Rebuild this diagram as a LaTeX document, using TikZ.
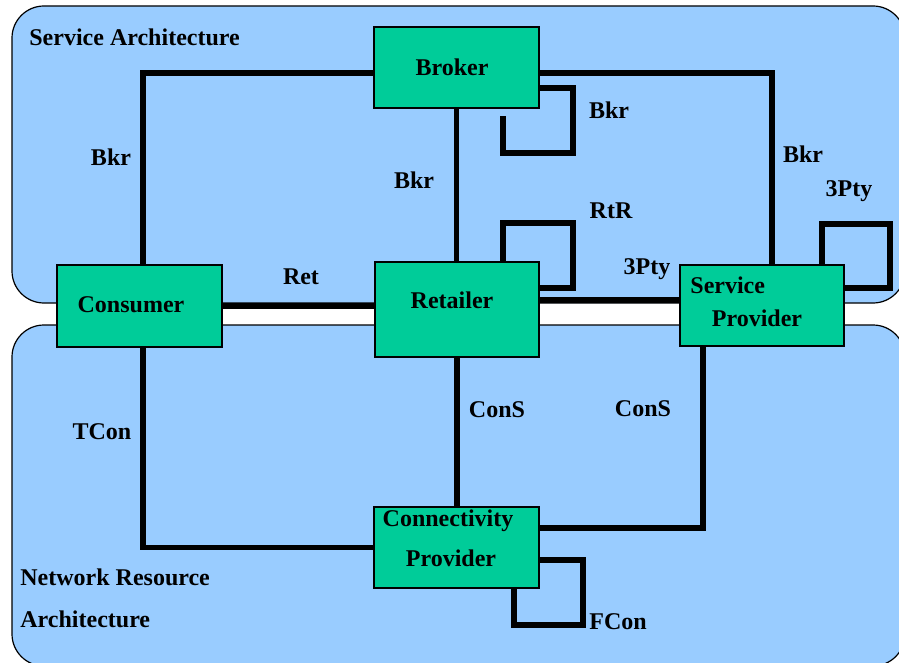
\documentclass[tikz,border=0pt]{standalone}
\usepackage{fontspec}
\setmainfont{Liberation Serif}
\definecolor{areablue}{HTML}{99CCFF}
\definecolor{boxgreen}{HTML}{00CC99}
\tikzset{
  area/.style={draw=black, line width=0.6pt, fill=areablue, rounded corners=16pt},
  comp/.style={draw=black, line width=0.8pt, fill=boxgreen, inner sep=0pt},
  link/.style={line width=2.6pt},
  lbl/.style={font=\fontsize{12pt}{14pt}\selectfont\bfseries, inner sep=0pt,
    text height=8pt, text depth=0pt}
}
\begin{document}
\begin{tikzpicture}[x=0.5pt,y=-0.5pt]
      \useasboundingbox[fill=white] (0,0) rectangle (899,663);
      % 两个区域
      \draw[area] (12,6) rectangle (905,303);
      \draw[area] (12,325) rectangle (905,666);
      \node[lbl,anchor=west] (sa) at (29,38) {Service Architecture};
      \node[lbl,anchor=west] (nra1) at (20,577) {Network Resource};
      \node[lbl,anchor=west] (nra2) at (20,619) {Architecture};
      % 角色方框
      \node[comp,minimum width=82.5pt,minimum height=40.5pt] (broker) at (456.5,67.5) {};
      \node[comp,minimum width=82pt,minimum height=47.5pt] (retailer) at (457,309.5) {};
      \node[comp,minimum width=82pt,minimum height=40.5pt] (provider) at (762,305.5) {};
      \node[comp,minimum width=82.5pt,minimum height=41pt] (consumer) at (139.5,306) {};
      \node[comp,minimum width=82.5pt,minimum height=40.5pt] (connect) at (456.5,547.5) {};
      \node[lbl] (brokertxt) at (452,68) {Broker};
      \node[lbl] (retailertxt) at (452,300) {Retailer};
      \node[lbl] (consumertxt) at (131,305) {Consumer};
      \node[lbl,anchor=west] (providertxt1) at (690,285) {Service};
      \node[lbl] (providertxt2) at (757,318) {Provider};
      \node[lbl] (connecttxt1) at (448,518) {Connectivity};
      \node[lbl] (connecttxt2) at (451,558) {Provider};
      % 参考点之间的连线
      \draw[link] ([yshift=-2.75pt]broker.west) -| ([xshift=1.75pt]consumer.north);
      \draw[link] ([yshift=-2.75pt]broker.east) -| ([xshift=5pt]provider.north);
      \draw[link] (broker.south) -- (broker.south |- retailer.north);
      \draw[link] (consumer.east) -- ([yshift=1.75pt]retailer.west);
      \draw[link] ([yshift=4.75pt]retailer.east) -- ([yshift=2.75pt]provider.west);
      \draw[link] ([xshift=1.75pt]consumer.south) |- (connect.west);
      \draw[link] (retailer.south) -- (retailer.south |- connect.north);
      \draw[link] ([xshift=-29.5pt]provider.south) |- ([yshift=9.75pt]connect.east);
      % 自环
      \coordinate (bkrend) at (503,116);
      \draw[link] ([yshift=-10.25pt]broker.east) -| (573,153) -| (bkrend);
      \draw[link] ([xshift=23pt]retailer.north) |- (573,223) |- ([yshift=10.75pt]retailer.east);
      \draw[link] ([xshift=30pt]provider.north) |- (890,224) |- ([yshift=8.75pt]provider.east);
      \draw[link] ([yshift=-6.25pt]connect.east) -| (583,625) -| ([xshift=28.75pt]connect.south);
      % 参考点名称
      \foreach \x/\y/\t [count=\i] in {111/158/Bkr, 414/181/Bkr, 609/111/Bkr, 803/155/Bkr,
          849/189/3Pty, 611/211/RtR, 647/266/3Pty, 301/277/Ret, 102/431/TCon,
          497/409/ConS, 643/408/ConS, 618/621/FCon}
      \node[lbl] (ref\i) at (\x,\y) {\t};
    \end{tikzpicture}
\end{document}
